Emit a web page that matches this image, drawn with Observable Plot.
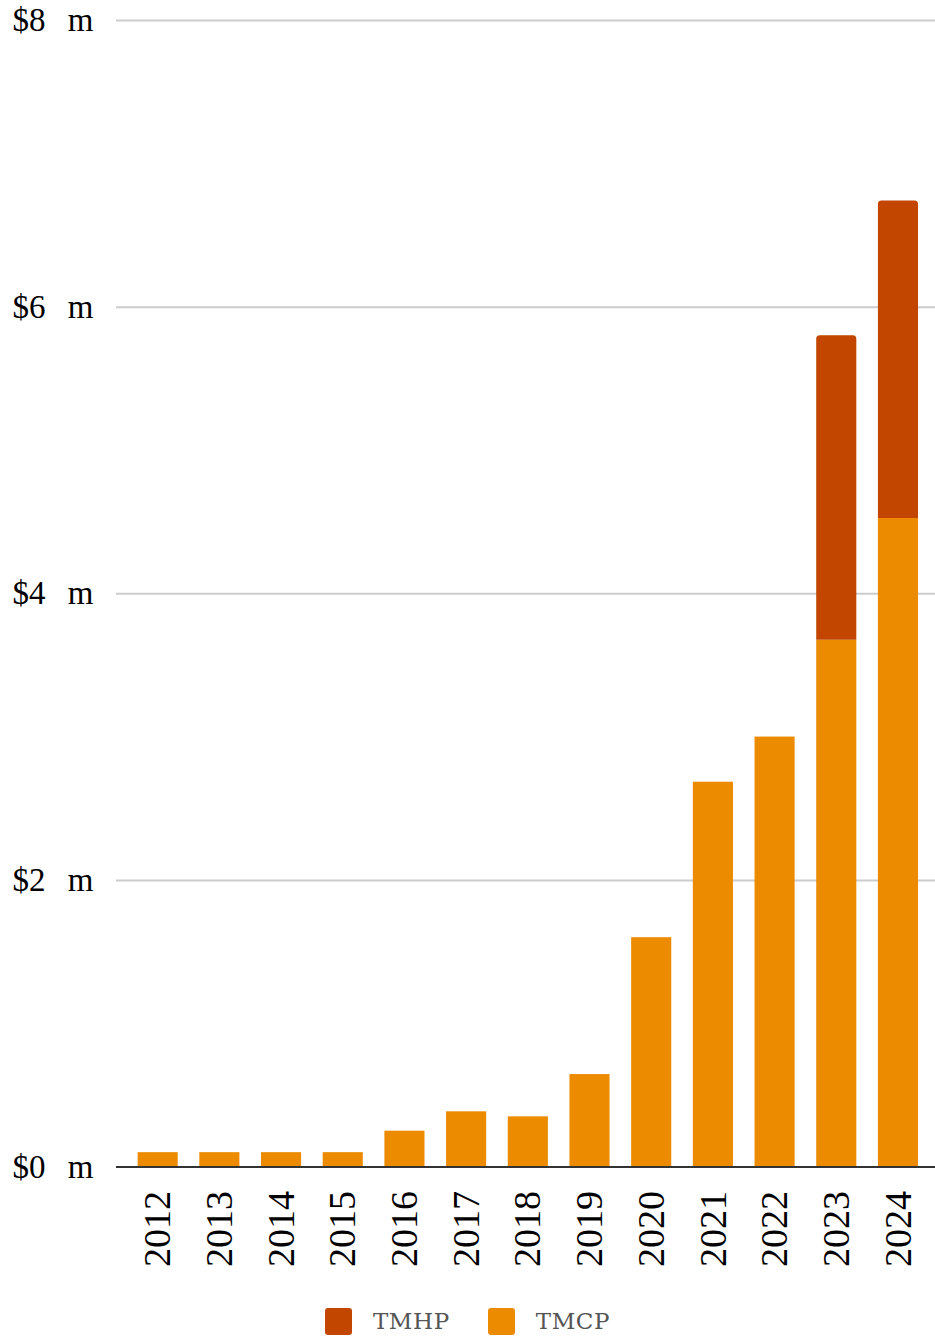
<!DOCTYPE html>
<html><head><meta charset="utf-8">
<script src="https://cdn.jsdelivr.net/npm/d3@7"></script>
<script src="https://cdn.jsdelivr.net/npm/@observablehq/plot@0.6"></script>
<style>
body{margin:0;background:#fff;}
#legend{display:flex;justify-content:center;align-items:center;margin-top:17px;height:28px;font-family:"DejaVu Serif",serif;font-size:23px;letter-spacing:0.6px;color:#555;}
.item{display:flex;align-items:center;margin:0 19px}
.sw{width:27px;height:27px;border-radius:3px;margin-right:21px}
#chart g[aria-label="y-axis tick label"] text{word-spacing:14px}
</style></head><body><div id="chart"></div><div id="legend"></div>
<script>
const years = [2012, 2013, 2014, 2015, 2016, 2017, 2018, 2019, 2020, 2021, 2022, 2023, 2024];
const tmcp = [0.1, 0.1, 0.1, 0.1, 0.25, 0.385, 0.35, 0.645, 1.6, 2.685, 3.0, 3.675, 4.525];
const tmhp = [0, 0, 0, 0, 0, 0, 0, 0, 0, 0, 0, 2.125, 2.215];
const seriesNames = ["TMHP", "TMCP"];
const seriesColors = ["#c24500", "#ec8a00"];
const yTicks = [0, 2, 4, 6, 8];
const yTickLabels = ["$0 m", "$2 m", "$4 m", "$6 m", "$8 m"];

const rows = years.map((yr, i) => ({year: String(yr), tmcp: tmcp[i], tmhp: tmhp[i]}));

const plot = Plot.plot({
  width: 935, height: 1290,
  marginTop: 20, marginBottom: 123.5, marginLeft: 116, marginRight: 0,
  style: {fontFamily: "Liberation Serif", background: "#fff"},
  x: {type: "band", domain: years.map(String), paddingInner: 0.35, paddingOuter: 0.313, align: 0.56, round: false, label: null},
  y: {domain: [0, 8], label: null},
  marks: [
    Plot.ruleY(yTicks.filter(d => d > 0), {stroke: "#cccccc", strokeWidth: 2}),
    Plot.barY(rows, {x: "year", y1: 0, y2: "tmcp", fill: seriesColors[1]}),
    Plot.barY(rows.filter(d => d.tmhp > 0), {x: "year", y1: "tmcp", y2: d => d.tmcp + d.tmhp, fill: seriesColors[0], ry1: 3.5}),
    Plot.ruleY([0], {stroke: "#333", strokeWidth: 2}),
    Plot.axisY({ticks: yTicks, tickFormat: d => yTickLabels[yTicks.indexOf(d)], tickSize: 0, tickPadding: 23, fontSize: 33, label: null}),
    Plot.axisX({tickRotate: -90, tickSize: 0, tickPadding: 24, fontSize: 38, label: null})
  ]
});
document.getElementById("chart").appendChild(plot);

const legend = document.getElementById("legend");
seriesNames.forEach((name, i) => {
  const item = document.createElement("div");
  item.className = "item";
  item.innerHTML = `<div class="sw" style="background:${seriesColors[i]}"></div><span>${name}</span>`;
  legend.appendChild(item);
});
</script>
</body></html>
